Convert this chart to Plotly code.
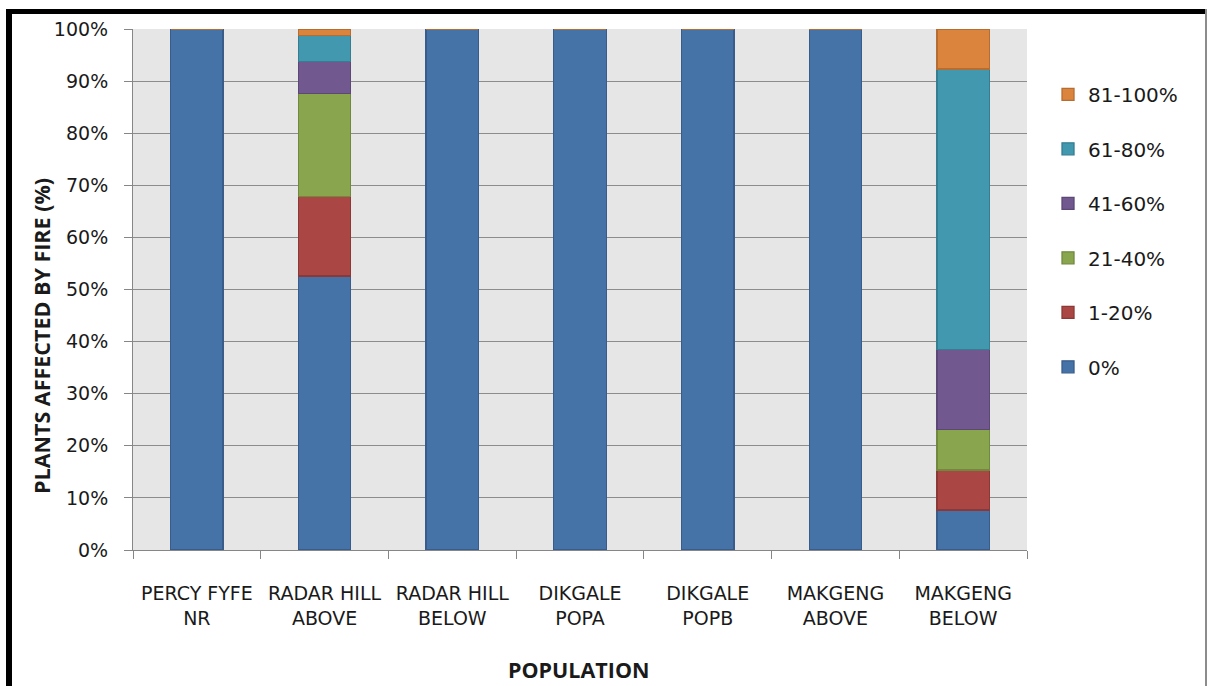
import plotly.graph_objects as go

populations = ["PERCY FYFE<br>NR", "RADAR HILL<br>ABOVE", "RADAR HILL<br>BELOW",
               "DIKGALE<br>POPA", "DIKGALE<br>POPB", "MAKGENG<br>ABOVE", "MAKGENG<br>BELOW"]

# Share of plants (%) in each fire-damage class, per population
damage_0 = [100.0, 52.6, 100.0, 100.0, 100.0, 100.0, 7.69]
damage_1_20 = [0, 15.2, 0, 0, 0, 0, 7.69]
damage_21_40 = [0, 19.8, 0, 0, 0, 0, 7.69]
damage_41_60 = [0, 6.1, 0, 0, 0, 0, 15.38]
damage_61_80 = [0, 5.0, 0, 0, 0, 0, 53.85]
damage_81_100 = [0, 1.3, 0, 0, 0, 0, 7.69]

series = [
    ("0%", damage_0, "#4572A7", "#385D8A"),
    ("1-20%", damage_1_20, "#AA4643", "#8C3836"),
    ("21-40%", damage_21_40, "#89A54E", "#71893F"),
    ("41-60%", damage_41_60, "#71588F", "#5C4776"),
    ("61-80%", damage_61_80, "#4198AF", "#357D91"),
    ("81-100%", damage_81_100, "#DB843D", "#B66D31"),
]

y_ticks = list(range(0, 101, 10))
y_tick_labels = [f"{v}%" for v in y_ticks]

FONT = "DejaVu Sans"
TITLE_FONT = "Open Sans"
TEXT = "#1a1a1a"

fig = go.Figure()
n = len(series)
for i, (name, vals, fill, edge) in enumerate(series):
    fig.add_trace(go.Bar(
        x=populations, y=vals, name=name, legendgroup=name,
        legendrank=1000 + (n - i),  # highest damage class listed first
        marker=dict(color=fill, line=dict(color=edge, width=1.3)),
        width=0.41,
    ))

fig.update_layout(
    barmode="stack",
    width=1214, height=686,
    margin=dict(l=133, r=187, t=29, b=136),
    paper_bgcolor="white",
    plot_bgcolor="#E6E6E6",
    font=dict(family=FONT, size=19, color=TEXT),
    showlegend=True,
    legend=dict(
        x=1.0235, y=0.912, xanchor="left", yanchor="top",
        traceorder="grouped", tracegroupgap=25.5,
        font=dict(family=FONT, size=20, color=TEXT),
        bgcolor="rgba(0,0,0,0)",
    ),
    xaxis=dict(
        tickson="boundaries", ticks="outside", ticklen=8, tickcolor="#868686",
        showline=True, linecolor="#868686", linewidth=1,
        tickfont=dict(family=FONT, size=19, color=TEXT),
        ticklabelstandoff=26,
    ),
    yaxis=dict(
        range=[0, 100], tickvals=y_ticks, ticktext=y_tick_labels,
        ticks="outside", ticklen=8, tickcolor="#868686",
        showgrid=True, gridcolor="#8C8C8C", gridwidth=1,
        showline=True, linecolor="#868686", linewidth=1,
        tickfont=dict(family=FONT, size=19, color=TEXT),
        ticklabelstandoff=12,
        zeroline=False,
    ),
    annotations=[
        dict(text="<b>POPULATION</b>", xref="paper", yref="paper",
             x=(579 - 133) / 894, y=(550 - 669) / 521, showarrow=False,
             xanchor="center", yanchor="middle",
             font=dict(family=TITLE_FONT, size=21.5, color=TEXT)),
        dict(text="<b>PLANTS AFFECTED BY FIRE (%)</b>", xref="paper", yref="paper",
             x=(42 - 133) / 894, y=(550 - 336) / 521, showarrow=False, textangle=-90,
             xanchor="center", yanchor="middle",
             font=dict(family=TITLE_FONT, size=21.5, color=TEXT)),
    ],
    shapes=[
        # chart frame: heavy top and left edges, thin right edge
        dict(type="rect", xref="paper", yref="paper",
             x0=(6 - 133) / 894, x1=(1207 - 133) / 894,
             y0=(550 - 9) / 521, y1=(550 - 14) / 521,
             fillcolor="black", line=dict(width=0), layer="above"),
        dict(type="rect", xref="paper", yref="paper",
             x0=(6 - 133) / 894, x1=(12 - 133) / 894,
             y0=(550 - 9) / 521, y1=(550 - 690) / 521,
             fillcolor="black", line=dict(width=0), layer="above"),
        dict(type="line", xref="paper", yref="paper",
             x0=(1206 - 133) / 894, x1=(1206 - 133) / 894,
             y0=(550 - 9) / 521, y1=(550 - 690) / 521,
             line=dict(color="#8C8C8C", width=2), layer="above"),
    ],
)

fig.write_html("out.html")
